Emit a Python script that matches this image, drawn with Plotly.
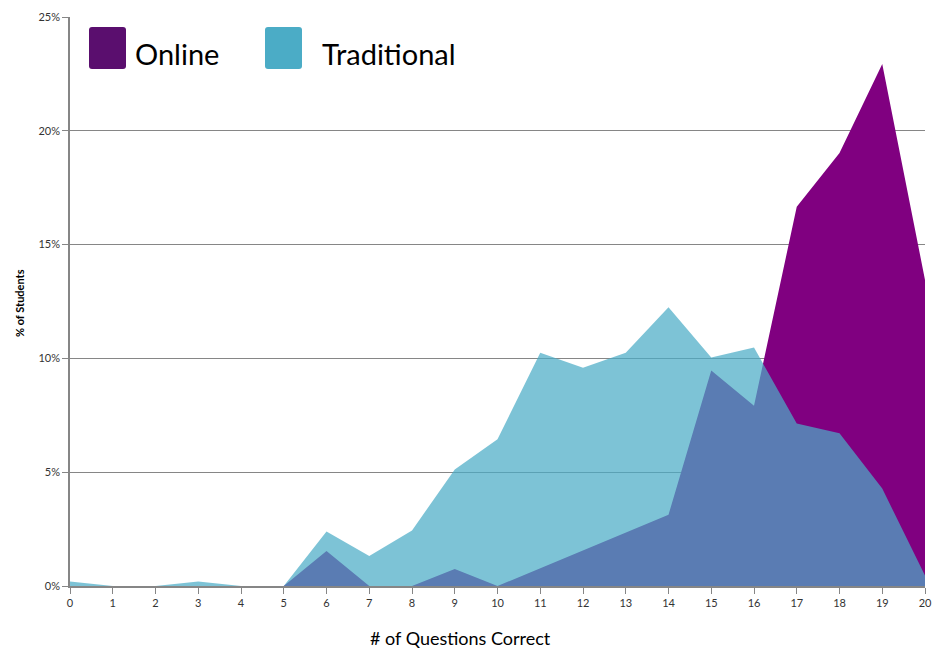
import plotly.graph_objects as go

questions = list(range(0, 21))
online = [0, 0, 0, 0, 0, 0, 1.54, 0, 0, 0.75, 0, 0.78, 1.56, 2.34, 3.13, 9.47, 7.92, 16.66, 19.03, 22.93, 13.45]
traditional = [0.2, 0, 0, 0.2, 0, 0, 2.4, 1.32, 2.44, 5.12, 6.45, 10.25, 9.59, 10.25, 12.25, 10.04, 10.48, 7.14, 6.71, 4.28, 0.46]
y_ticks = [0, 5, 10, 15, 20, 25]

FONT = "Lato"
fig = go.Figure()
fig.add_trace(go.Scatter(x=questions, y=online, mode="lines", fill="tozeroy",
                         line=dict(width=0, color="#800080"), fillcolor="#800080",
                         name="Online", showlegend=False))
fig.add_trace(go.Scatter(x=questions, y=traditional, mode="lines", fill="tozeroy",
                         line=dict(width=0, color="rgba(75,172,198,0.72)"),
                         fillcolor="rgba(75,172,198,0.72)",
                         name="Traditional", showlegend=False))

def swatch(x0, color):
    r = 3
    x1 = x0 + 37
    y0, y1 = -52, -10
    path = (f"M{x0+r},{y0} L{x1-r},{y0} Q{x1},{y0} {x1},{y0+r} L{x1},{y1-r} Q{x1},{y1} {x1-r},{y1} "
            f"L{x0+r},{y1} Q{x0},{y1} {x0},{y1-r} L{x0},{y0+r} Q{x0},{y0} {x0+r},{y0} Z")
    return dict(type="path", xref="paper", yref="paper", xsizemode="pixel", ysizemode="pixel",
                xanchor=0, yanchor=1, path=path, fillcolor=color, line=dict(width=0), layer="above")

fig.update_layout(
    width=933, height=649,
    margin=dict(l=70, r=8, t=17, b=63, autoexpand=False),
    paper_bgcolor="white", plot_bgcolor="white",
    font=dict(family=FONT, color="#404040"),
    xaxis=dict(range=[0, 20], tickvals=questions, ticktext=[str(q) for q in questions],
               automargin=False,
               showgrid=False, zeroline=False, showline=True, linecolor="#868686", linewidth=1.5,
               ticks="outside", ticklen=6, tickcolor="#868686", tickfont=dict(size=11, color="#333333")),
    yaxis=dict(range=[0, 25], tickvals=y_ticks, ticktext=[f"{v}%" for v in y_ticks],
               automargin=False,
               showgrid=True, gridcolor="#868686", gridwidth=1, zeroline=False,
               showline=True, linecolor="#868686", linewidth=1.5,
               ticks="outside", ticklen=6, tickcolor="#868686", tickfont=dict(size=11, color="#333333")),
    shapes=[swatch(19, "#5a0e6e"), swatch(195, "#4bacc6")],
    annotations=[
        dict(text="Online", xref="paper", yref="paper", x=(133 - 70) / 855, y=(586 - 54) / 569,
             xanchor="left", yanchor="middle", showarrow=False, font=dict(size=29, color="black", family=FONT)),
        dict(text="Traditional", xref="paper", yref="paper", x=(320 - 70) / 855, y=(586 - 54) / 569,
             xanchor="left", yanchor="middle", showarrow=False, font=dict(size=29, color="black", family=FONT)),
        dict(text="<b>% of Students</b>", xref="paper", yref="paper", x=(20 - 70) / 855, y=(586 - 303) / 569,
             xanchor="center", yanchor="middle", textangle=-90, showarrow=False,
             font=dict(size=11, color="black", family=FONT)),
        dict(text="# of Questions Correct", xref="paper", yref="paper", x=(460 - 70) / 855, y=(586 - 638) / 569,
             xanchor="center", yanchor="middle", showarrow=False, font=dict(size=18, color="black", family=FONT)),
    ],
)

fig.write_html("out.html")
